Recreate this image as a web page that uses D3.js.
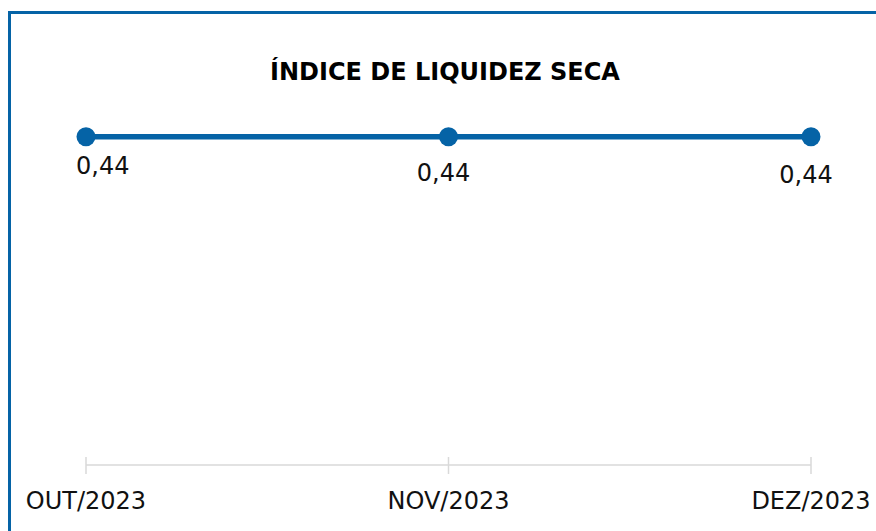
<!DOCTYPE html>
<html>
<head>
<meta charset="utf-8">
<script src="https://cdn.jsdelivr.net/npm/d3@7"></script>
<style>
  body { margin: 0; background: #fff; }
  text { font-family: "DejaVu Sans", sans-serif; }
</style>
</head>
<body>
<div id="chart"></div>
<script>
// data
var categories = ["OUT/2023", "NOV/2023", "DEZ/2023"];
var values = [0.44, 0.44, 0.44];
var title = "ÍNDICE DE LIQUIDEZ SECA";

var width = 876, height = 531;
var blue = "#0563a6";

var svg = d3.select("#chart")
  .append("svg")
    .attr("width", width)
    .attr("height", height);

// frame (top and left border)
svg.append("path")
  .attr("d", "M9.5,531 L9.5,12.5 L876,12.5")
  .style("fill", "none")
  .style("stroke", blue)
  .style("stroke-width", 3);

// title
svg.append("text")
  .attr("x", 445)
  .attr("y", 80)
  .attr("text-anchor", "middle")
  .style("font-size", "24px")
  .style("font-weight", "bold")
  .style("fill", "#000")
  .text(title);

// scales
var x = d3.scalePoint()
  .domain(categories)
  .range([86, 811]);

var y = d3.scaleLinear()
  .domain([0, 0.5])
  .range([465, 92]);

// x axis
svg.append("line")
  .attr("x1", x(categories[0]))
  .attr("x2", x(categories[categories.length - 1]))
  .attr("y1", y(0))
  .attr("y2", y(0))
  .style("stroke", "#d9d9d9")
  .style("stroke-width", 1.5);

svg.append("g")
  .selectAll("line")
  .data(categories)
  .enter()
  .append("line")
    .attr("x1", function(d) { return x(d); })
    .attr("x2", function(d) { return x(d); })
    .attr("y1", y(0) - 8)
    .attr("y2", y(0) + 9)
    .style("stroke", "#d9d9d9")
    .style("stroke-width", 1.5);

svg.append("g")
  .selectAll("text")
  .data(categories)
  .enter()
  .append("text")
    .attr("x", function(d) { return x(d); })
    .attr("y", y(0) + 44)
    .attr("text-anchor", "middle")
    .style("font-size", "24px")
    .style("fill", "#111")
    .text(function(d) { return d; });

// line
var line = d3.line()
  .x(function(d, i) { return x(categories[i]); })
  .y(function(d) { return y(d); });

svg.append("path")
  .datum(values)
  .attr("d", line)
  .style("fill", "none")
  .style("stroke", blue)
  .style("stroke-width", 5.5);

// markers
svg.append("g")
  .selectAll("circle")
  .data(values)
  .enter()
  .append("circle")
    .attr("cx", function(d, i) { return x(categories[i]); })
    .attr("cy", function(d) { return y(d); })
    .attr("r", 9.5)
    .style("fill", blue);

// data labels
var fmt = function(v) { return d3.format(".2f")(v).replace(".", ","); };
var labelDy = [37, 44, 46];
svg.append("g")
  .selectAll("text")
  .data(values)
  .enter()
  .append("text")
    .attr("x", function(d, i) { return i === 0 ? x(categories[i]) - 10 : x(categories[i]) - 5; })
    .attr("y", function(d, i) { return y(d) + labelDy[i]; })
    .attr("text-anchor", function(d, i) { return i === 0 ? "start" : "middle"; })
    .style("font-size", "24px")
    .style("fill", "#111")
    .text(function(d) { return fmt(d); });
</script>
</body>
</html>
